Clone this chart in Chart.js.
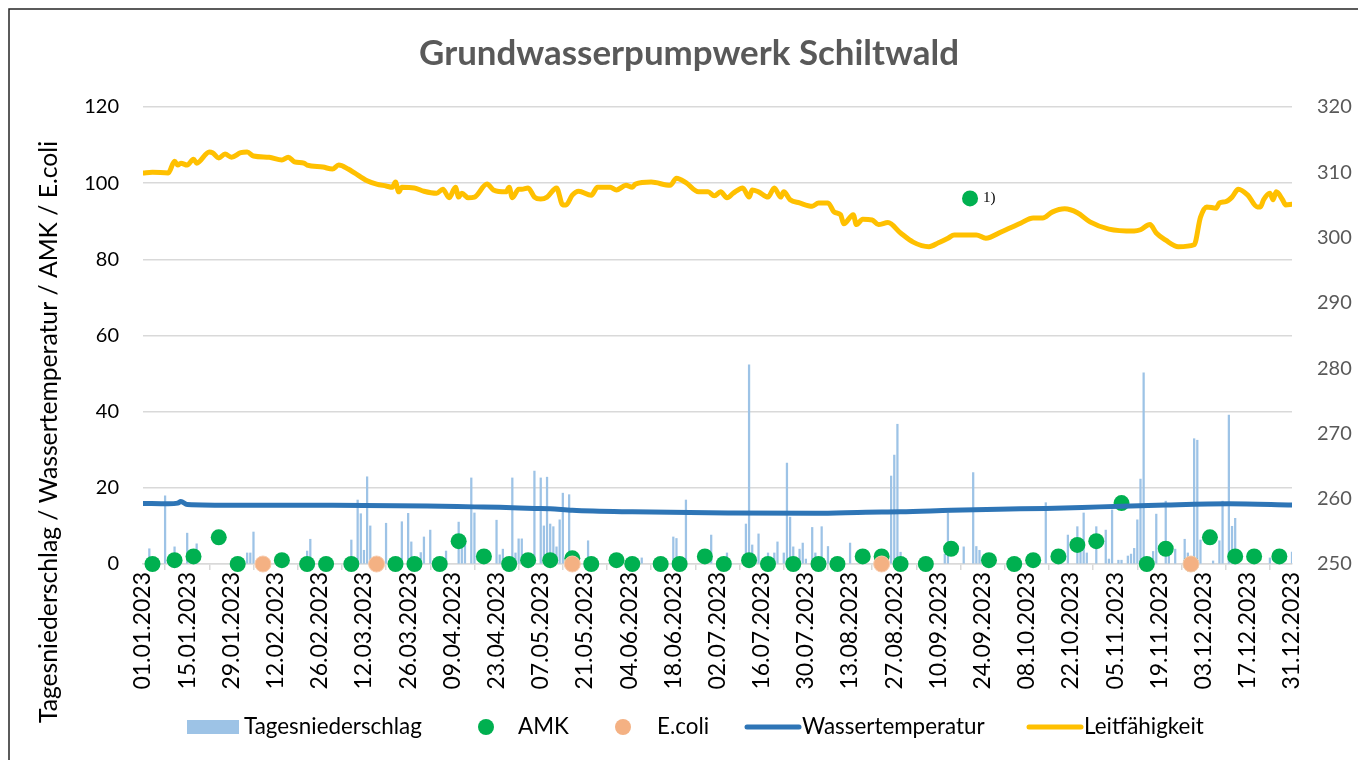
<!DOCTYPE html>
<html lang="de">
<head>
<meta charset="UTF-8">
<title>Grundwasserpumpwerk Schiltwald</title>
<script src="https://cdn.jsdelivr.net/npm/chart.js@4.4.1/dist/chart.umd.min.js"></script>
<style>
  html, body { margin: 0; padding: 0; background: #fff; overflow: hidden; }
  #wrap { width: 1358px; height: 760px; }
</style>
</head>
<body>
<div id="wrap"><canvas id="chart" width="1358" height="760"></canvas></div>
<script>
// x = day of year 2023 (0 = 01.01.2023)
const tickLabels = ['01.01.2023', '15.01.2023', '29.01.2023', '12.02.2023', '26.02.2023', '12.03.2023', '26.03.2023',
  '09.04.2023', '23.04.2023', '07.05.2023', '21.05.2023', '04.06.2023', '18.06.2023', '02.07.2023', '16.07.2023',
  '30.07.2023', '13.08.2023', '27.08.2023', '10.09.2023', '24.09.2023', '08.10.2023', '22.10.2023', '05.11.2023',
  '19.11.2023', '03.12.2023', '17.12.2023', '31.12.2023'];

// Tagesniederschlag (left axis)
const precipDays = [2, 7, 10, 14, 17, 33, 34, 35, 52, 53, 66, 68, 69, 70, 71, 72, 77, 82, 84, 85, 88, 89, 91, 96,
  100, 101, 102, 104, 105, 112, 113, 114, 117, 118, 119, 120, 124, 126, 127, 128, 129, 130, 131, 132, 133, 135, 141,
  158, 168, 169, 172, 180, 185, 191, 192, 193, 195, 198, 200, 201, 203, 204, 205, 206, 208, 209, 210, 212, 213, 215,
  217, 224, 237, 238, 239, 240, 254, 255, 260, 263, 264, 265, 286, 293, 296, 297, 298, 299, 302, 305, 306, 307, 309,
  310, 312, 313, 314, 315, 316, 317, 320, 321, 324, 325, 327, 330, 331, 333, 334, 335, 339, 341, 342, 344, 345, 346,
  357, 364];
const precipValues = [4.0, 17.9, 4.5, 8.1, 5.3, 2.9, 2.9, 8.4, 3.4, 6.5, 6.3, 16.8, 13.2, 3.6, 22.9, 10.0, 10.7, 11.1,
  13.3, 5.8, 3.0, 7.1, 8.9, 3.4, 11.0, 4.7, 5.8, 22.6, 13.4, 11.5, 2.4, 3.9, 22.6, 2.9, 6.6, 6.6, 24.4, 22.6, 10.0,
  22.8, 10.5, 9.8, 4.5, 11.6, 18.6, 18.2, 6.1, 1.6, 7.1, 6.7, 16.8, 7.6, 2.9, 10.5, 52.3, 5.0, 7.9, 2.9, 2.9, 5.8,
  2.9, 26.5, 12.3, 4.5, 3.9, 5.5, 1.3, 9.6, 2.9, 9.8, 4.6, 5.5, 23.1, 28.6, 36.7, 3.1, 2.6, 13.3, 4.5, 24.0, 4.6, 3.6,
  16.1, 7.6, 9.8, 3.1, 13.4, 2.9, 9.8, 8.9, 1.3, 14.2, 1.0, 1.0, 2.1, 2.6, 4.1, 11.6, 22.3, 50.2, 3.3, 13.1, 16.5,
  2.9, 3.9, 6.5, 2.9, 32.9, 32.5, 6.3, 0.8, 6.1, 16.5, 39.1, 9.9, 12.0, 1.6, 3.1];

// AMK samples (left axis)
const amkDays = [3, 10, 16, 24, 30, 44, 52, 58, 66, 80, 86, 94, 100, 108, 116, 122, 129, 136, 142, 150, 155, 164,
  170, 178, 184, 192, 198, 206, 214, 220, 228, 234, 240, 248, 256, 262, 268, 276, 282, 290, 296, 302, 310, 318, 324,
  332, 338, 346, 352, 360];
const amkValues = [0, 1, 2, 7, 0, 1, 0, 0, 0, 0, 0, 0, 6, 2, 0, 1, 1, 1.5, 0, 1, 0, 0, 0, 2, 0, 1, 0, 0, 0, 0, 2, 2,
  0, 0, 4, 96, 1, 0, 1, 2, 5, 6, 16, 0, 4, 0, 7, 2, 2, 2];
const amkNoteDay = 262;
const amkNoteText = '1)';

// E.coli samples (left axis)
const ecoliDays = [38, 74, 136, 234, 332];
const ecoliValues = [0, 0, 0, 0, 0];

// Wassertemperatur (left axis)
const tempDays = [0, 8, 11, 12, 14, 30, 60, 90, 105, 113, 124, 129, 136, 155, 187, 213, 229, 240, 256, 271, 286,
  303, 324, 344, 364];
const tempValues = [15.9, 15.8, 16.0, 16.4, 15.6, 15.4, 15.4, 15.2, 15.0, 14.9, 14.6, 14.5, 14.1, 13.7, 13.4, 13.3,
  13.6, 13.7, 14.1, 14.4, 14.6, 15.0, 15.5, 15.8, 15.5];

// Leitfähigkeit (right axis)
const condDays = [0, 3, 8, 10, 11, 12, 14, 16, 17, 21, 22, 24, 26, 28, 31, 33, 35, 40, 44, 46, 48, 51, 52, 57, 60,
  62, 65, 67, 71, 74, 77, 79, 80, 81, 82, 86, 89, 93, 95, 97, 99, 100, 101, 103, 105, 109, 111, 115, 116, 117, 119,
  120, 122, 124, 126, 128, 131, 133, 134, 136, 138, 142, 144, 148, 150, 153, 155, 156, 161, 167, 169, 172, 176, 179,
  181, 183, 185, 187, 190, 192, 193, 195, 198, 200, 202, 203, 205, 208, 212, 214, 217, 219, 221, 222, 225, 226, 228,
  231, 233, 236, 240, 244, 249, 252, 255, 257, 264, 267, 272, 278, 282, 285, 288, 292, 296, 300, 306, 314, 316, 319,
  321, 324, 328, 333, 335, 337, 340, 341, 343, 345, 347, 350, 353, 354, 355, 357, 358, 359, 361, 362, 364];
const condValues = [309.9, 310.0, 309.9, 311.7, 311.1, 311.4, 311.1, 312.0, 311.4, 313.1, 313.0, 312.2, 312.8, 312.3,
  313.0, 313.1, 312.5, 312.3, 311.9, 312.3, 311.6, 311.4, 311.1, 310.8, 310.5, 311.1, 310.5, 309.9, 308.7, 308.2,
  307.9, 307.7, 308.5, 307.0, 307.7, 307.6, 307.1, 306.8, 307.4, 306.1, 307.7, 306.2, 306.8, 306.1, 306.2, 308.2,
  307.3, 307.0, 307.7, 306.1, 307.4, 307.4, 307.6, 306.2, 305.9, 306.2, 307.6, 305.0, 305.0, 306.5, 307.1, 306.5,
  307.7, 307.7, 307.3, 308.0, 307.7, 308.2, 308.5, 308.0, 309.1, 308.4, 307.0, 307.0, 306.4, 307.0, 306.1, 306.8,
  307.6, 306.2, 307.3, 307.0, 306.2, 307.6, 306.2, 307.0, 305.8, 305.3, 304.8, 305.3, 305.3, 303.9, 303.5, 302.1,
  303.5, 302.0, 302.8, 302.7, 302.0, 302.3, 300.7, 299.3, 298.6, 299.2, 299.9, 300.4, 300.4, 299.9, 300.9, 302.2,
  303.0, 303.0, 303.9, 304.4, 303.8, 302.4, 301.3, 301.0, 301.2, 302.0, 300.7, 299.6, 298.6, 298.9, 303.1, 304.7,
  304.5, 305.3, 305.5, 306.2, 307.4, 306.5, 304.7, 304.7, 305.8, 306.8, 305.8, 307.0, 305.8, 305.0, 305.1];

const FONT = 'Lato';
const COL_RAIN = '#9dc3e6';
const COL_AMK = '#00b050';
const COL_ECOLI = '#f4b183';
const COL_TEMP = '#2e75b6';
const COL_COND = '#ffc000';

function pairs(xs, ys) {
  return xs.map((x, i) => ({ x: x, y: ys[i] }));
}

function fitSize(ctx, text, weight, target) {
  ctx.font = weight + ' 100px ' + FONT;
  return 100 * target / ctx.measureText(text).width;
}

// title, axis title, note and legend
const decor = {
  id: 'decor',
  beforeDraw(chart) {
    const ctx = chart.ctx;
    ctx.save();
    ctx.fillStyle = '#fff';
    ctx.fillRect(0, 0, chart.width, chart.height);
    ctx.strokeStyle = '#262626';
    ctx.lineWidth = 1.5;
    ctx.strokeRect(9, 9, chart.width + 40, chart.height + 40);
    ctx.restore();
  },
  afterDraw(chart) {
    const ctx = chart.ctx;
    ctx.save();

    // chart title
    const title = 'Grundwasserpumpwerk Schiltwald';
    ctx.font = 'bold ' + fitSize(ctx, title, 'bold', 540).toFixed(1) + 'px ' + FONT;
    ctx.fillStyle = '#595959';
    ctx.textAlign = 'center';
    ctx.textBaseline = 'alphabetic';
    ctx.fillText(title, 689, 65);

    // left axis title
    const yTitle = 'Tagesniederschlag / Wassertemperatur / AMK / E.coli';
    ctx.font = fitSize(ctx, yTitle, 'normal', 583).toFixed(1) + 'px ' + FONT;
    ctx.fillStyle = '#000';
    ctx.translate(49, 432);
    ctx.rotate(-Math.PI / 2);
    ctx.textBaseline = 'middle';
    ctx.fillText(yTitle, 0, 0);
    ctx.setTransform(1, 0, 0, 1, 0, 0);

    // footnote next to the high AMK value
    const amkMeta = chart.getDatasetMeta(1);
    const pt = amkMeta.data[amkDays.indexOf(amkNoteDay)];
    if (pt) {
      ctx.font = '15px "Liberation Serif"';
      ctx.fillStyle = '#000';
      ctx.textAlign = 'left';
      ctx.textBaseline = 'middle';
      ctx.fillText(amkNoteText, pt.x + 13, pt.y);
    }

    // legend
    const ly = 727;
    const lsize = fitSize(ctx, 'Tagesniederschlag', 'normal', 178);
    ctx.font = lsize.toFixed(1) + 'px ' + FONT;
    ctx.fillStyle = '#000';
    ctx.textAlign = 'left';
    ctx.textBaseline = 'middle';

    ctx.fillStyle = COL_RAIN;
    ctx.fillRect(187, ly - 7, 52, 14);
    ctx.fillStyle = '#000';
    ctx.fillText(chart.data.datasets[4].label, 244, ly);

    ctx.beginPath();
    ctx.arc(486, ly, 8, 0, Math.PI * 2);
    ctx.fillStyle = COL_AMK;
    ctx.fill();
    ctx.fillStyle = '#000';
    ctx.fillText(chart.data.datasets[1].label, 518, ly);

    ctx.beginPath();
    ctx.arc(623, ly, 8, 0, Math.PI * 2);
    ctx.fillStyle = COL_ECOLI;
    ctx.fill();
    ctx.fillStyle = '#000';
    ctx.fillText(chart.data.datasets[2].label, 657, ly);

    ctx.lineCap = 'round';
    ctx.lineWidth = 5;
    ctx.strokeStyle = COL_TEMP;
    ctx.beginPath();
    ctx.moveTo(747, ly);
    ctx.lineTo(799, ly);
    ctx.stroke();
    ctx.fillText(chart.data.datasets[3].label, 802, ly);

    ctx.strokeStyle = COL_COND;
    ctx.beginPath();
    ctx.moveTo(1029, ly);
    ctx.lineTo(1081, ly);
    ctx.stroke();
    ctx.fillText(chart.data.datasets[0].label, 1084, ly);

    ctx.restore();
  }
};

const ctx = document.getElementById('chart').getContext('2d');
const tickSize = 20;
const dateSize = 23;

const chart = new Chart(ctx, {
  type: 'bar',
  data: {
    datasets: [
      {
        type: 'line',
        label: 'Leitfähigkeit',
        data: pairs(condDays, condValues),
        yAxisID: 'y2',
        borderColor: COL_COND,
        borderWidth: 5,
        borderCapStyle: 'round',
        borderJoinStyle: 'round',
        pointRadius: 0,
        cubicInterpolationMode: 'monotone',
        order: 0
      },
      {
        type: 'line',
        label: 'AMK',
        data: pairs(amkDays, amkValues),
        yAxisID: 'y',
        showLine: false,
        clip: false,
        pointRadius: 8,
        pointBackgroundColor: COL_AMK,
        pointBorderColor: COL_AMK,
        pointBorderWidth: 0,
        order: 3
      },
      {
        type: 'line',
        label: 'E.coli',
        data: pairs(ecoliDays, ecoliValues),
        yAxisID: 'y',
        showLine: false,
        clip: false,
        pointRadius: 8,
        pointBackgroundColor: COL_ECOLI,
        pointBorderColor: '#f8cbad',
        pointBorderWidth: 1,
        order: 2
      },
      {
        type: 'line',
        label: 'Wassertemperatur',
        data: pairs(tempDays, tempValues),
        yAxisID: 'y',
        borderColor: COL_TEMP,
        borderWidth: 5,
        borderCapStyle: 'round',
        pointRadius: 0,
        cubicInterpolationMode: 'monotone',
        order: 1
      },
      {
        type: 'bar',
        label: 'Tagesniederschlag',
        data: pairs(precipDays, precipValues),
        yAxisID: 'y',
        backgroundColor: COL_RAIN,
        barThickness: 1.6,
        order: 4
      }
    ]
  },
  options: {
    responsive: false,
    animation: false,
    events: [],
    layout: { padding: { left: 0, right: 0, top: 107, bottom: 0 } },
    plugins: {
      legend: { display: false },
      title: { display: false },
      tooltip: { enabled: false }
    },
    scales: {
      x: {
        type: 'linear',
        min: 0,
        max: 364,
        offset: false,
        afterFit(scale) { scale.height = 196; },
        afterBuildTicks(scale) {
          scale.ticks = tickLabels.map((t, i) => ({ value: i * 14 }));
        },
        ticks: {
          autoSkip: false,
          minRotation: 90,
          maxRotation: 90,
          padding: 2,
          color: '#000',
          font: { family: FONT, size: dateSize },
          callback: (v) => tickLabels[Math.round(v / 14)]
        },
        grid: {
          drawOnChartArea: false,
          drawTicks: true,
          tickLength: 6,
          color: '#d9d9d9',
          lineWidth: 1.5
        },
        border: { display: true, color: '#d9d9d9', width: 1.5 }
      },
      y: {
        position: 'left',
        min: 0,
        max: 120,
        afterFit(scale) { scale.width = 143; },
        ticks: {
          stepSize: 20,
          padding: 24,
          color: '#000',
          font: { family: FONT, size: tickSize }
        },
        grid: { color: '#d9d9d9', lineWidth: 1.5, drawTicks: false },
        border: { display: false }
      },
      y2: {
        position: 'right',
        min: 250,
        max: 320,
        afterFit(scale) { scale.width = 66; },
        ticks: {
          stepSize: 10,
          padding: 25,
          color: '#595959',
          font: { family: FONT, size: tickSize }
        },
        grid: { display: false, drawTicks: false },
        border: { display: false }
      }
    }
  },
  plugins: [decor]
});
</script>
</body>
</html>
